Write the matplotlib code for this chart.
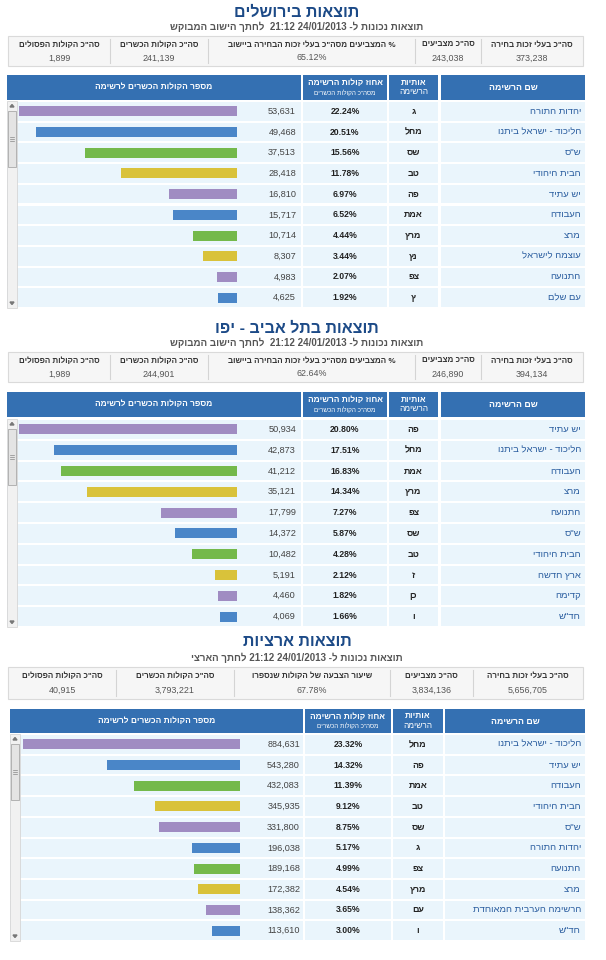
import re
import matplotlib
matplotlib.use('Agg')
import matplotlib.pyplot as plt
from matplotlib.patches import Rectangle, Polygon

plt.rcParams['font.family'] = ['Liberation Sans', 'DejaVu Sans']

# ---- data ----
titles = ['תוצאות בירושלים', 'תוצאות בתל אביב - יפו', 'תוצאות ארציות']
subtitles = ['תוצאות נכונות ל- 24/01/2013 21:12  לחתך הישוב המבוקש',
             'תוצאות נכונות ל- 24/01/2013 21:12  לחתך הישוב המבוקש',
             'תוצאות נכונות ל- 24/01/2013 21:12 לחתך הארצי']

sum_heads_city = ['סה"כ בעלי זכות בחירה', 'סה"כ מצביעים',
                  '% המצביעים מסה"כ בעלי זכות הבחירה ביישוב',
                  'סה"כ הקולות הכשרים', 'סה"כ הקולות הפסולים']
sum_heads_nat = ['סה"כ בעלי זכות בחירה', 'סה"כ מצביעים',
                 'שיעור הצבעה של הקולות שנספרו',
                 'סה"כ הקולות הכשרים', 'סה"כ הקולות הפסולים']

jlm_summary = ['373,238', '243,038', '65.12%', '241,139', '1,899']
tlv_summary = ['394,134', '246,890', '62.64%', '244,901', '1,989']
nat_summary = ['5,656,705', '3,834,136', '67.78%', '3,793,221', '40,915']

jlm_names = ['יהדות התורה', 'הליכוד - ישראל ביתנו', 'ש"ס', 'הבית היהודי', 'יש עתיד',
             'העבודה', 'מרצ', 'עוצמה לישראל', 'התנועה', 'עם שלם']
jlm_letters = ['ג', 'מחל', 'שס', 'טב', 'פה', 'אמת', 'מרץ', 'נץ', 'צפ', 'ץ']
jlm_votes = [53631, 49468, 37513, 28418, 16810, 15717, 10714, 8307, 4983, 4625]
jlm_pct = [22.24, 20.51, 15.56, 11.78, 6.97, 6.52, 4.44, 3.44, 2.07, 1.92]

tlv_names = ['יש עתיד', 'הליכוד - ישראל ביתנו', 'העבודה', 'מרצ', 'התנועה',
             'ש"ס', 'הבית היהודי', 'ארץ חדשה', 'קדימה', 'חד"ש']
tlv_letters = ['פה', 'מחל', 'אמת', 'מרץ', 'צפ', 'שס', 'טב', 'ז', 'כן', 'ו']
tlv_votes = [50934, 42873, 41212, 35121, 17799, 14372, 10482, 5191, 4460, 4069]
tlv_pct = [20.80, 17.51, 16.83, 14.34, 7.27, 5.87, 4.28, 2.12, 1.82, 1.66]

nat_names = ['הליכוד - ישראל ביתנו', 'יש עתיד', 'העבודה', 'הבית היהודי', 'ש"ס',
             'יהדות התורה', 'התנועה', 'מרצ', 'הרשימה הערבית המאוחדת', 'חד"ש']
nat_letters = ['מחל', 'פה', 'אמת', 'טב', 'שס', 'ג', 'צפ', 'מרץ', 'עם', 'ו']
nat_votes = [884631, 543280, 432083, 345935, 331800, 196038, 189168, 172382, 138362, 113610]
nat_pct = [23.32, 14.32, 11.39, 9.12, 8.75, 5.17, 4.99, 4.54, 3.65, 3.00]

bar_colors = ['#a08cc2', '#4a86c8', '#74b94b', '#d9c23a']

W, H = 606, 960
fig = plt.figure(figsize=(W / 100, H / 100), dpi=100)
bg = fig.add_axes([0, 0, 1, 1])
bg.set_xlim(0, W)
bg.set_ylim(H, 0)
bg.axis('off')


def heb(s):
    # visual order for right-to-left text, numbers kept left-to-right
    r = s[::-1]
    return re.sub(r'[0-9/:.,%]+', lambda m: m.group(0)[::-1], r)


def rect(x0, y0, x1, y1, fc, ec='none', lw=0.8, z=1):
    bg.add_patch(Rectangle((x0, y0), x1 - x0, y1 - y0, facecolor=fc,
                           edgecolor=ec, linewidth=lw, zorder=z))


def panel(yy, xs, title, sub, heads, svals, names, letters, votes, pcts):
    # title + subtitle
    bg.text(297, yy['title'], heb(title), ha='center', va='center',
            fontsize=11.5, fontweight='bold', color='#1c4a87')
    bg.text(297, yy['sub'], heb(sub), ha='center', va='center',
            fontsize=7, fontweight='bold', color='#555555')

    # summary box
    b0, b1 = yy['box']
    rect(8, b0, 583, b1, '#f6f6f6', ec='#dadada')
    edges = [583] + xs['divs'] + [8]
    for d in xs['divs']:
        bg.plot([d, d], [b0 + 3, b1 - 3], color='#d4d4d4', lw=0.8)
    hy = b0 + (b1 - b0) * 0.3
    vy = b0 + (b1 - b0) * 0.73
    for i in range(5):
        cx = (edges[i] + edges[i + 1]) / 2
        bg.text(cx, hy, heb(heads[i]), ha='center', va='center',
                fontsize=5.8, fontweight='bold', color='#333333')
        bg.text(cx, vy, svals[i], ha='center', va='center',
                fontsize=6.4, color='#555555')

    # table header
    h0, h1 = yy['head']
    cols = [(xs['bar'][0], xs['bar'][1]), xs['pct'], xs['let'], xs['name']]
    for c0, c1 in cols:
        rect(c0, h0, c1, h1, '#3470b2')
    hc = (h0 + h1) / 2
    bg.text(sum(cols[0]) / 2, hc, heb('מספר הקולות הכשרים לרשימה'),
            ha='center', va='center', fontsize=6, fontweight='bold', color='white')
    bg.text(sum(cols[1]) / 2, hc - 4, heb('אחוז קולות הרשימה'),
            ha='center', va='center', fontsize=6, fontweight='bold', color='white')
    bg.text(sum(cols[1]) / 2, hc + 5, heb('מסה"כ הקולות הכשרים'),
            ha='center', va='center', fontsize=4.6, color='white')
    bg.text(sum(cols[2]) / 2, hc - 4, heb('אותיות'),
            ha='center', va='center', fontsize=6, fontweight='bold', color='white')
    bg.text(sum(cols[2]) / 2, hc + 5, heb('הרשימה'),
            ha='center', va='center', fontsize=6, color='white')
    bg.text(sum(cols[3]) / 2, hc, heb('שם הרשימה'),
            ha='center', va='center', fontsize=6.3, fontweight='bold', color='white')

    # rows
    r0, r1 = yy['rows']
    rh = (r1 - r0) / len(names)
    for i in range(len(names)):
        ya, yb = r0 + i * rh + 1, r0 + (i + 1) * rh - 1
        yc = (ya + yb) / 2
        for c0, c1 in cols:
            rect(c0, ya, c1, yb, '#eaf5fc')
        bg.text(xs['valx'], yc, f'{votes[i]:,}', ha='right', va='center',
                fontsize=6.6, color='#444444')
        bg.text(sum(cols[1]) / 2, yc, f'{pcts[i]:.2f}%', ha='center', va='center',
                fontsize=6.2, fontweight='bold', color='#222222')
        bg.text(sum(cols[2]) / 2, yc, heb(letters[i]), ha='center', va='center',
                fontsize=6.4, fontweight='bold', color='#222222')
        bg.text(xs['name'][1] - 4, yc, heb(names[i]), ha='right', va='center',
                fontsize=6.8, color='#2a5d9f')

    # scrollbar
    s0 = xs['scroll']
    rect(s0, r0, s0 + 10, r1, '#f1f1f1', ec='#d6d6d6', lw=0.6, z=2)
    rect(s0 + 1, r0 + 10, s0 + 9, r0 + 66, '#e4e4e4', ec='#a9a9a9', lw=0.6, z=3)
    for k in range(3):
        bg.plot([s0 + 3, s0 + 7], [r0 + 36 + k * 2] * 2, color='#888888', lw=0.5, zorder=4)
    bg.add_patch(Polygon([[s0 + 3, r0 + 6], [s0 + 7, r0 + 6], [s0 + 5, r0 + 3.5]],
                         color='#777777', zorder=4))
    bg.add_patch(Polygon([[s0 + 3, r1 - 6], [s0 + 7, r1 - 6], [s0 + 5, r1 - 3.5]],
                         color='#777777', zorder=4))

    # bars, drawn on their own value axis (right to left)
    x0, x1 = xs['maxleft'], xs['zero']
    ax = fig.add_axes([x0 / W, 1 - r1 / H, (x1 - x0) / W, (r1 - r0) / H])
    ax.barh(range(len(votes)), votes, height=0.48,
            color=[bar_colors[i % 4] for i in range(len(votes))])
    ax.set_xlim(max(votes), 0)
    ax.set_ylim(len(votes) - 0.5, -0.5)
    ax.axis('off')
    ax.patch.set_alpha(0)


city_x = dict(divs=[481, 415, 208, 110], bar=(7, 301), pct=(303, 387), let=(389, 438),
              name=(441, 585), valx=296, scroll=7, maxleft=19, zero=237)
nat_x = dict(divs=[473, 390, 234, 116], bar=(10, 303), pct=(305, 391), let=(393, 443),
             name=(445, 585), valx=300, scroll=10, maxleft=23, zero=240)

panel(dict(title=12, sub=27, box=(36, 66), head=(75, 100), rows=(101, 308)), city_x,
      titles[0], subtitles[0], sum_heads_city, jlm_summary,
      jlm_names, jlm_letters, jlm_votes, jlm_pct)
panel(dict(title=328, sub=343, box=(352, 382), head=(392, 417), rows=(419, 627)), city_x,
      titles[1], subtitles[1], sum_heads_city, tlv_summary,
      tlv_names, tlv_letters, tlv_votes, tlv_pct)
panel(dict(title=642, sub=658, box=(667, 699), head=(709, 733), rows=(734, 941)), nat_x,
      titles[2], subtitles[2], sum_heads_nat, nat_summary,
      nat_names, nat_letters, nat_votes, nat_pct)

fig.savefig('out.png', dpi=100)
